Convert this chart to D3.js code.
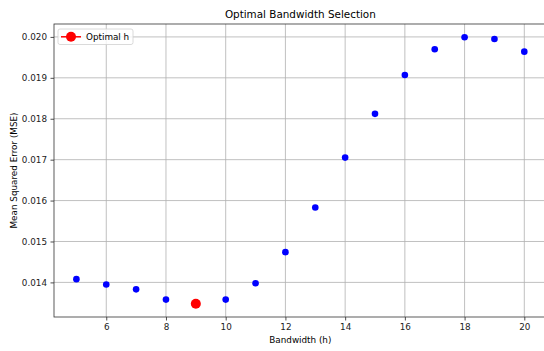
<!DOCTYPE html>
<html>
<head>
<meta charset="utf-8">
<script src="https://cdn.jsdelivr.net/npm/d3@7"></script>
<style>
 body { margin: 0; background: #fff; }
 svg { font-family: "DejaVu Sans", sans-serif; display: block; }
</style>
</head>
<body>
<div id="chart"></div>
<script>
// data
const bandwidths = [5, 6, 7, 8, 9, 10, 11, 12, 13, 14, 15, 16, 17, 18, 19, 20];
const mseValues = [0.01408, 0.01395, 0.01383, 0.01358, 0.01348, 0.01358, 0.01398, 0.01474,
  0.01583, 0.01705, 0.01812, 0.01907, 0.0197, 0.01999, 0.01995, 0.01964];
const optimalH = 9;
const xTicks = [6, 8, 10, 12, 14, 16, 18, 20];
const yTicks = [0.014, 0.015, 0.016, 0.017, 0.018, 0.019, 0.020];

const width = 544, height = 351;
const margin = { top: 24, left: 54, bottom: 34 };

const svg = d3.select("#chart").append("svg")
  .attr("width", width)
  .attr("height", height);

// matplotlib style 5% padding
const xmin = d3.min(bandwidths), xmax = d3.max(bandwidths);
const ymin = d3.min(mseValues), ymax = d3.max(mseValues);
const xpad = (xmax - xmin) * 0.05, ypad = (ymax - ymin) * 0.05;

const x = d3.scaleLinear()
  .domain([xmin - xpad, xmax + xpad])
  .range([margin.left, 546.7]);
const y = d3.scaleLinear()
  .domain([ymin - ypad, ymax + ypad])
  .range([height - margin.bottom, margin.top]);

const data = bandwidths.map((h, i) => ({ h: h, mse: mseValues[i] }));

// grid
svg.append("g").selectAll("line")
  .data(xTicks)
  .join("line")
  .attr("x1", d => x(d)).attr("x2", d => x(d))
  .attr("y1", y.range()[0]).attr("y2", y.range()[1])
  .attr("stroke", "#b0b0b0").attr("stroke-width", 0.8);
svg.append("g").selectAll("line")
  .data(yTicks)
  .join("line")
  .attr("y1", d => y(d)).attr("y2", d => y(d))
  .attr("x1", x.range()[0]).attr("x2", x.range()[1])
  .attr("stroke", "#b0b0b0").attr("stroke-width", 0.8);

// axes
const xAxis = svg.append("g")
  .attr("transform", `translate(0,${y.range()[0]})`)
  .call(d3.axisBottom(x).tickValues(xTicks).tickSize(3.5).tickPadding(3.5).tickFormat(d3.format("d")));
const yAxis = svg.append("g")
  .attr("transform", `translate(${x.range()[0]},0)`)
  .call(d3.axisLeft(y).tickValues(yTicks).tickSize(3.5).tickPadding(3.5).tickFormat(d3.format(".3f")));
[xAxis, yAxis].forEach(a => {
  a.select(".domain").remove();
  a.selectAll("line").attr("stroke", "#222").attr("stroke-width", 0.8);
  a.selectAll("text").attr("font-size", 8.8).attr("fill", "#222")
    .style("font-family", "DejaVu Sans, sans-serif");
});

// frame
svg.append("rect")
  .attr("x", x.range()[0]).attr("y", y.range()[1])
  .attr("width", x.range()[1] - x.range()[0])
  .attr("height", y.range()[0] - y.range()[1])
  .attr("fill", "none").attr("stroke", "#333").attr("stroke-width", 0.8);

// points
svg.append("g").selectAll("circle")
  .data(data)
  .join("circle")
  .attr("cx", d => x(d.h))
  .attr("cy", d => y(d.mse))
  .attr("r", 3.3)
  .attr("fill", "#0000ff");

const opt = data.find(d => d.h === optimalH);
svg.append("circle")
  .attr("cx", x(opt.h)).attr("cy", y(opt.mse))
  .attr("r", 5)
  .attr("fill", "#ff0000");

// labels
svg.append("text")
  .attr("x", (x.range()[0] + x.range()[1]) / 2).attr("y", 18)
  .attr("text-anchor", "middle").attr("font-size", 10.4).attr("fill", "#000")
  .text("Optimal Bandwidth Selection");
svg.append("text")
  .attr("x", (x.range()[0] + x.range()[1]) / 2).attr("y", 343)
  .attr("text-anchor", "middle").attr("font-size", 8.8).attr("fill", "#000")
  .text("Bandwidth (h)");
svg.append("text")
  .attr("transform", `translate(17,${(y.range()[0] + y.range()[1]) / 2}) rotate(-90)`)
  .attr("text-anchor", "middle").attr("font-size", 8.8).attr("fill", "#000")
  .text("Mean Squared Error (MSE)");

// legend
const lg = svg.append("g").attr("transform", "translate(58,29)");
lg.append("rect")
  .attr("width", 75).attr("height", 15.5).attr("rx", 2)
  .attr("fill", "#fff").attr("fill-opacity", 0.8)
  .attr("stroke", "#d0d0d0").attr("stroke-width", 0.8);
lg.append("line")
  .attr("x1", 3).attr("x2", 23).attr("y1", 7.8).attr("y2", 7.8)
  .attr("stroke", "#ff0000").attr("stroke-width", 1.5);
lg.append("circle").attr("cx", 13).attr("cy", 7.8).attr("r", 5).attr("fill", "#ff0000");
lg.append("text").attr("x", 28).attr("y", 11)
  .attr("font-size", 8.8).attr("fill", "#000").text("Optimal h");
</script>
</body>
</html>
